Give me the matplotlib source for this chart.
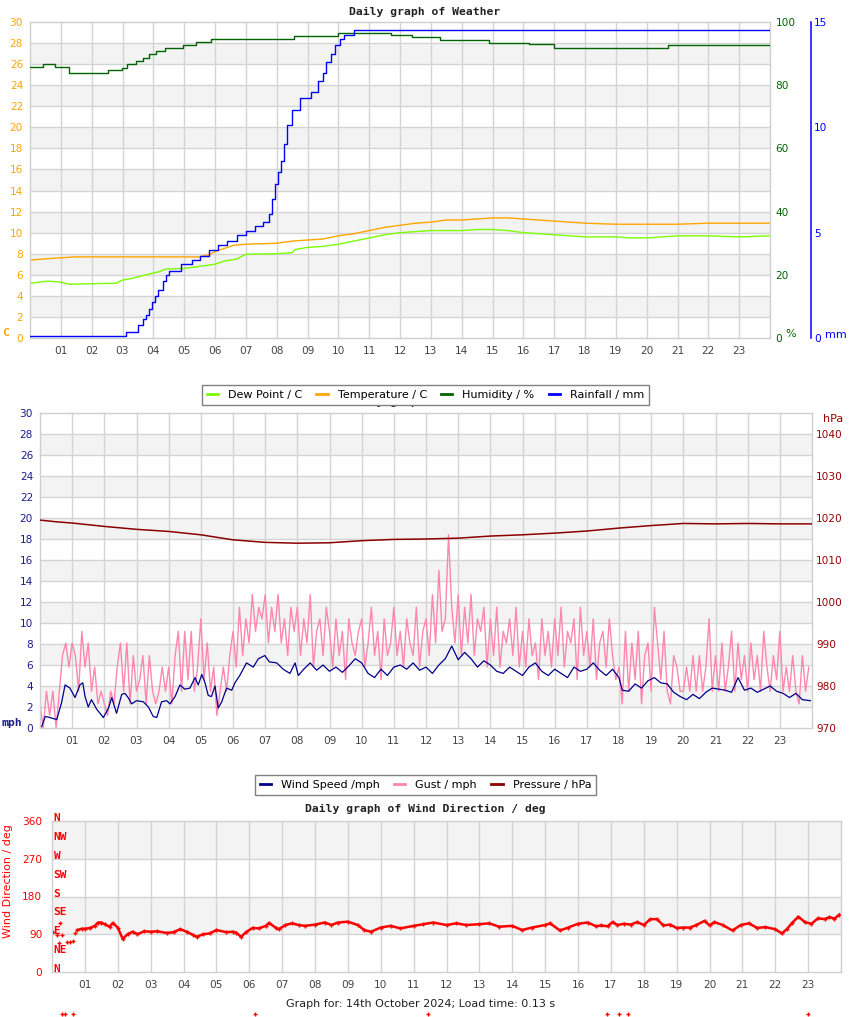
import numpy as np
import matplotlib
matplotlib.use('Agg')
import matplotlib.pyplot as plt
import matplotlib.transforms as mtransforms
from matplotlib.lines import Line2D

# ---------------------------------------------------------------
# Values (x = hour of the day)
# ---------------------------------------------------------------

HOURS = list(range(1, 24))
HOUR_LABELS = [f'{h:02d}' for h in HOURS]

# top panel: temperature / dew point (C), humidity (%), rainfall (mm)
temp_t = [0, 0.65, 1.45, 3.0, 4.5, 5.5, 5.8, 6.0, 6.3, 6.6, 7.0, 8.0, 8.5, 9.0, 9.5,
          10.0, 10.5, 11.0, 11.5, 12.0, 12.5, 13.0, 13.5, 14.0, 14.5, 15.0, 15.5,
          16.0, 16.5, 17.0, 17.5, 18.0, 19.0, 20.0, 21.0, 22.0, 23.0, 24.0]
temp_v = [7.4, 7.55, 7.7, 7.7, 7.7, 7.7, 7.9, 8.2, 8.5, 8.8, 8.9, 9.0, 9.2, 9.3, 9.4,
          9.7, 9.9, 10.2, 10.5, 10.7, 10.9, 11.0, 11.2, 11.2, 11.3, 11.4, 11.4,
          11.3, 11.2, 11.1, 11.0, 10.9, 10.8, 10.8, 10.8, 10.9, 10.9, 10.9]

dew_t = [0, 0.6, 1.0, 1.3, 2.0, 2.8, 3.0, 3.2, 3.5, 3.9, 4.2, 4.4, 5.0, 5.5, 6.0, 6.3,
         6.7, 7.0, 8.0, 8.5, 8.6, 9.0, 9.5, 10.0, 10.5, 11.0, 11.5, 12.0, 12.5, 13.0,
         14.0, 14.5, 15.0, 15.5, 16.0, 16.5, 17.0, 17.5, 18.0, 19.0, 19.5, 20.0, 20.5,
         21.0, 22.0, 23.0, 24.0]
dew_v = [5.2, 5.4, 5.3, 5.1, 5.15, 5.2, 5.5, 5.6, 5.8, 6.1, 6.3, 6.55, 6.6, 6.8, 7.0, 7.3,
         7.5, 7.95, 8.0, 8.1, 8.4, 8.6, 8.7, 8.9, 9.2, 9.5, 9.8, 10.0, 10.1, 10.2,
         10.2, 10.3, 10.3, 10.2, 10.0, 9.9, 9.8, 9.7, 9.6, 9.6, 9.5, 9.5, 9.6,
         9.7, 9.7, 9.6, 9.7]

hum_t = [0, 0.42, 0.82, 1.27, 2.54, 2.98, 3.15, 3.44, 3.68, 3.87, 4.09, 4.37, 4.96,
         5.37, 5.87, 8.57, 10.0, 11.7, 12.4, 13.3, 14.9, 16.2, 17.0, 20.7, 24.0]
hum_v = [85.8, 86.7, 85.8, 83.9, 84.7, 85.6, 86.6, 87.5, 88.6, 89.9, 90.7, 91.7, 92.7,
         93.6, 94.5, 95.5, 96.6, 95.9, 95.3, 94.3, 93.4, 93.0, 91.7, 92.6, 92.6]

rain_t = [0, 3.1, 3.5, 3.65, 3.75, 3.85, 3.95, 4.05, 4.15, 4.3, 4.4, 4.5, 4.9, 5.25,
          5.5, 5.8, 6.1, 6.4, 6.7, 7.0, 7.3, 7.55, 7.75, 7.85, 7.95, 8.05, 8.15, 8.25,
          8.35, 8.5, 8.75, 9.1, 9.35, 9.5, 9.6, 9.75, 9.9, 10.05, 10.2, 10.5, 24.0]
rain_v = [0.1, 0.3, 0.6, 0.9, 1.1, 1.4, 1.7, 2.0, 2.3, 2.7, 3.0, 3.2, 3.5, 3.7,
          3.9, 4.2, 4.4, 4.6, 4.9, 5.1, 5.3, 5.5, 5.9, 6.6, 7.3, 7.9, 8.4, 9.2,
          10.1, 10.8, 11.4, 11.7, 12.2, 12.6, 13.1, 13.5, 13.9, 14.2, 14.4, 14.6, 14.6]

# middle panel: wind speed and gust (mph), pressure (hPa)
wind_t = [0, 0.05, 0.16, 0.3, 0.52, 0.67, 0.78, 0.93, 1.09, 1.24, 1.33, 1.4, 1.5, 1.6,
          1.76, 1.97, 2.13, 2.23, 2.38, 2.54, 2.64, 2.74, 2.85, 3.0, 3.21, 3.37, 3.52,
          3.63, 3.78, 3.94, 4.04, 4.2, 4.35, 4.5, 4.66, 4.82, 4.92, 5.03, 5.13, 5.23,
          5.33, 5.44, 5.54, 5.65, 5.8, 5.96, 6.06, 6.21, 6.42, 6.63, 6.79, 6.99, 7.13,
          7.36, 7.56, 7.77, 7.93, 8.03, 8.2, 8.4, 8.6, 8.8, 9.0, 9.2, 9.4, 9.6, 9.8,
          10.0, 10.2, 10.4, 10.6, 10.8, 11.0, 11.2, 11.4, 11.6, 11.8, 12.0, 12.2, 12.4,
          12.6, 12.8, 13.0, 13.2, 13.4, 13.6, 13.8, 14.0, 14.2, 14.4, 14.6, 14.8, 15.0,
          15.2, 15.4, 15.6, 15.8, 16.0, 16.2, 16.4, 16.6, 16.8, 17.0, 17.2, 17.4, 17.6,
          17.8, 18.0, 18.1, 18.3, 18.5, 18.7, 18.9, 19.1, 19.3, 19.5, 19.7, 19.9, 20.1,
          20.3, 20.5, 20.7, 20.9, 21.1, 21.3, 21.5, 21.7, 21.9, 22.1, 22.3, 22.5, 22.7,
          22.9, 23.1, 23.3, 23.5, 23.7, 23.95]
wind_v = [0.3, 0.1, 1.1, 1.0, 0.8, 2.4, 4.1, 3.8, 2.9, 4.1, 4.3, 3.0, 2.0, 2.7,
          1.8, 1.0, 1.9, 2.9, 1.4, 3.2, 3.3, 2.9, 2.3, 2.6, 2.5, 2.0, 1.1,
          1.0, 2.5, 2.6, 2.3, 3.0, 4.1, 3.7, 3.8, 4.8, 4.1, 5.1, 4.3, 3.1,
          3.0, 4.0, 1.9, 2.5, 3.8, 3.6, 4.3, 5.0, 6.2, 5.8, 6.6, 6.9, 6.3,
          6.2, 5.6, 5.2, 6.2, 5.0, 5.6, 6.2, 5.5, 6.0, 5.4, 5.8, 5.3, 5.9, 6.6,
          6.2, 5.2, 4.8, 5.6, 5.0, 5.8, 6.0, 5.6, 6.2, 5.5, 5.8, 5.2, 6.0,
          6.6, 7.8, 6.5, 7.2, 6.6, 5.8, 6.4, 6.0, 5.4, 5.2, 5.8, 5.4, 5.0,
          5.8, 6.2, 5.4, 5.0, 5.6, 5.2, 4.8, 5.8, 5.4, 5.6, 6.2, 5.5, 5.0,
          5.6, 4.8, 3.6, 3.5, 4.2, 3.8, 4.5, 4.8, 4.3, 4.2, 3.4, 3.0, 2.7,
          3.2, 2.8, 3.4, 3.8, 3.7, 3.6, 3.4, 4.8, 3.6, 3.8, 3.4, 3.7, 4.0,
          3.5, 3.3, 2.9, 3.3, 2.7, 2.6]

# gust, ten readings per hour (0.0, 0.1, ... 23.9 h)
gust_by_hour = [
    [2.3, 0.0, 3.5, 1.2, 3.5, 0.0, 3.5, 6.9, 8.1, 5.8],
    [8.1, 6.9, 3.5, 9.2, 5.8, 8.1, 3.5, 5.8, 2.3, 3.5],
    [2.3, 1.2, 3.5, 2.3, 5.8, 8.1, 3.5, 8.1, 2.3, 6.9],
    [3.5, 4.6, 6.9, 2.3, 6.9, 3.5, 2.3, 3.5, 5.8, 3.5],
    [5.8, 2.3, 6.9, 9.2, 3.5, 9.2, 4.6, 9.2, 3.5, 5.8],
    [10.4, 4.6, 8.1, 3.5, 5.8, 1.2, 3.5, 5.8, 3.5, 6.9],
    [9.2, 5.8, 11.5, 6.9, 10.4, 8.1, 12.7, 9.2, 11.5, 10.4],
    [12.7, 8.1, 11.5, 9.2, 12.7, 8.1, 10.4, 6.9, 11.5, 9.2],
    [11.5, 6.9, 10.4, 8.1, 12.7, 5.8, 9.2, 10.4, 6.9, 11.5],
    [9.2, 5.8, 10.4, 6.9, 9.2, 4.6, 10.4, 8.1, 6.9, 9.2],
    [10.4, 5.8, 8.1, 11.5, 6.9, 9.2, 4.6, 10.4, 6.9, 8.1],
    [11.5, 6.9, 9.2, 5.8, 10.4, 8.1, 6.9, 11.5, 5.8, 9.2],
    [10.4, 6.9, 12.7, 8.1, 15.0, 9.2, 10.4, 18.4, 11.5, 8.1],
    [12.7, 6.9, 11.5, 8.1, 12.7, 6.9, 10.4, 9.2, 11.5, 5.8],
    [10.4, 6.9, 11.5, 5.8, 9.2, 8.1, 10.4, 6.9, 11.5, 5.8],
    [9.2, 5.8, 10.4, 6.9, 8.1, 4.6, 10.4, 6.9, 9.2, 5.8],
    [10.4, 6.9, 11.5, 5.8, 9.2, 8.1, 10.4, 4.6, 11.5, 6.9],
    [9.2, 5.8, 10.4, 4.6, 8.1, 9.2, 5.8, 10.4, 6.9, 4.6],
    [5.8, 2.3, 9.2, 3.5, 8.1, 4.6, 9.2, 2.3, 6.9, 8.1],
    [3.5, 11.5, 8.1, 4.6, 9.2, 3.5, 2.3, 6.9, 5.8, 3.5],
    [3.5, 5.8, 3.5, 6.9, 3.5, 6.9, 3.5, 5.8, 10.4, 3.5],
    [6.9, 3.5, 8.1, 3.5, 5.8, 9.2, 3.5, 8.1, 4.6, 6.9],
    [3.5, 8.1, 4.6, 6.9, 3.5, 9.2, 5.8, 3.5, 6.9, 4.6],
    [9.2, 3.5, 5.8, 3.5, 6.9, 3.5, 2.3, 6.9, 3.5, 5.8],
]

pres_t = [0, 0.5, 1.0, 2.0, 3.0, 4.0, 5.0, 6.0, 7.0, 8.0, 9.0, 10.0, 11.0, 12.0, 13.0,
          14.0, 15.0, 16.0, 17.0, 18.0, 19.0, 20.0, 21.0, 22.0, 23.0, 24.0]
pres_v = [1019.5, 1019.1, 1018.8, 1018.0, 1017.3, 1016.8, 1016.0, 1014.8, 1014.2, 1014.0,
          1014.1, 1014.6, 1014.9, 1015.0, 1015.2, 1015.7, 1016.0, 1016.4, 1016.9, 1017.6,
          1018.2, 1018.7, 1018.6, 1018.7, 1018.6, 1018.6]

# bottom panel: wind direction (deg)
dir_early_t = [0.04, 0.14, 0.2, 0.23, 0.3, 0.45, 0.55, 0.63, 0.7]
dir_early_v = [96, 88, 69, 117, 88, 72, 71, 73, 93]

dir_t = [0.77, 0.9, 1.0, 1.16, 1.3, 1.4, 1.5, 1.6, 1.75, 1.85, 2.0, 2.15, 2.3, 2.45,
         2.6, 2.8, 3.0, 3.2, 3.5, 3.7, 3.9, 4.1, 4.3, 4.4, 4.6, 4.8, 5.0, 5.3, 5.5,
         5.6, 5.75, 5.9, 6.1, 6.3, 6.5, 6.6, 6.8, 6.9, 7.1, 7.3, 7.5, 7.7, 8.0, 8.3,
         8.5, 8.7, 9.0, 9.3, 9.5, 9.7, 10.0, 10.3, 10.6, 11.0, 11.3, 11.6, 12.0,
         12.3, 12.6, 13.0, 13.3, 13.6, 14.0, 14.3, 14.6, 15.0, 15.15, 15.45, 15.7,
         16.0, 16.3, 16.55, 16.7, 16.9, 17.05, 17.2, 17.4, 17.6, 17.8, 18.0, 18.2,
         18.4, 18.6, 18.8, 19.0, 19.2, 19.4, 19.6, 19.85, 20.0, 20.15, 20.4, 20.7,
         20.95, 21.2, 21.45, 21.7, 22.0, 22.2, 22.35, 22.5, 22.7, 22.9, 23.1, 23.3,
         23.5, 23.65, 23.8, 23.95]
dir_v = [100, 103, 103, 105, 110, 118, 118, 114, 108, 117, 106, 79, 90, 96,
         90, 97, 96, 97, 93, 95, 102, 96, 88, 84, 90, 92, 100, 95, 96,
         94, 84, 95, 105, 104, 110, 117, 106, 102, 112, 116, 112, 110, 113, 118,
         112, 118, 120, 112, 100, 96, 106, 110, 104, 110, 114, 118, 112,
         116, 112, 114, 116, 108, 110, 100, 106, 112, 116, 99, 106,
         115, 118, 109, 111, 109, 119, 112, 115, 113, 119, 112, 126,
         126, 111, 113, 105, 106, 106, 112, 122, 111, 119, 112, 99,
         112, 116, 105, 107, 102, 92, 102, 116, 132, 119, 115, 128,
         126, 131, 127, 137]

# odd readings that landed below the plot
dir_stray_t = [0.29, 0.39, 0.65, 6.17, 11.44, 16.89, 17.26, 17.53, 23.0]
dir_stray_v = [-100, -100, -100, -100, -100, -100, -100, -100, -100]

compass_deg = [0, 45, 90, 135, 180, 225, 270, 315, 360]
compass_lbl = ['N', 'NE', 'E', 'SE', 'S', 'SW', 'W', 'NW', 'N']

# ---------------------------------------------------------------
# Styling
# ---------------------------------------------------------------
W, H = 850, 1017
BAND = '#f3f3f3'
GRID = '#d4d4d4'
XLAB = '#444444'
C_TEMP, C_DEW, C_HUM, C_RAIN = '#ffa500', '#7cfc00', '#006400', '#0000ff'
C_WIND, C_GUST, C_PRES = '#00008b', '#ff86ae', '#8b0000'
C_DIR = '#ff0000'
MONO = 'DejaVu Sans Mono'
TICK_FS = 7.6

plt.rcParams['font.family'] = ['DejaVu Sans']


def px_rect(x0, y0, x1, y1):
    '''Pixel box of the picture -> [left, bottom, width, height] in figure units'''
    return [x0 / W, 1 - y1 / H, (x1 - x0) / W, (y1 - y0) / H]


def fig_xy(x, y):
    return x / W, 1 - y / H


def grid_axes(ax, ymax, step, ylabel_color):
    '''Grey bands, grid lines, hour ticks'''
    edges = np.arange(0, ymax + step, step)
    for k in range(1, len(edges) - 1, 2):
        ax.axhspan(edges[k], edges[k + 1], color=BAND, lw=0, zorder=0)
    for y in edges[1:-1]:
        ax.axhline(y, color=GRID, lw=1, zorder=0.5)
    for h in HOURS:
        ax.axvline(h, color=GRID, lw=1, zorder=0.5)
    ax.set_xlim(0, 24)
    ax.set_ylim(0, ymax)
    ax.set_xticks(HOURS, HOUR_LABELS)
    ax.set_yticks(edges)
    ax.tick_params(axis='x', length=0, pad=6, labelsize=TICK_FS, labelcolor=XLAB)
    ax.tick_params(axis='y', length=0, pad=5, labelsize=TICK_FS, labelcolor=ylabel_color)
    for s in ax.spines.values():
        s.set_color('#cfcfcf')
        s.set_linewidth(1)


def clean_twin(ax):
    for s in ax.spines.values():
        s.set_visible(False)


fig = plt.figure(figsize=(W / 100, H / 100), dpi=100)

# ------------------------------ top panel ------------------------------
ax1 = fig.add_axes(px_rect(30, 22, 770, 338))
grid_axes(ax1, 30, 2, C_TEMP)
ax1.plot(dew_t, dew_v, color=C_DEW, lw=1.0)
ax1.plot(temp_t, temp_v, color=C_TEMP, lw=1.0)

ax1h = ax1.twinx()
clean_twin(ax1h)
ax1h.plot(hum_t, hum_v, color=C_HUM, lw=1.0, drawstyle='steps-post')
ax1h.set_ylim(0, 100)
ax1h.set_yticks([0, 20, 40, 60, 80, 100])
ax1h.tick_params(length=0, pad=4, labelsize=TICK_FS, labelcolor=C_HUM)

ax1r = ax1.twinx()
clean_twin(ax1r)
ax1r.spines['right'].set_visible(True)
ax1r.spines['right'].set_position(('axes', (811 - 30) / 740))
ax1r.spines['right'].set_color(C_RAIN)
ax1r.spines['right'].set_linewidth(1.1)
ax1r.plot(rain_t, rain_v, color=C_RAIN, lw=1.0, drawstyle='steps-post')
ax1r.set_ylim(0, 15)
ax1r.set_yticks([0, 5, 10, 15])
ax1r.tick_params(length=0, pad=2, labelsize=TICK_FS, labelcolor=C_RAIN)
ax1.set_xlim(0, 24)

fig.text(*fig_xy(425, 12), 'Daily graph of Weather', ha='center', va='center',
         family=MONO, weight='bold', fontsize=8.2, color='#222222')
fig.text(*fig_xy(2, 333), 'C', ha='left', va='center', family=MONO, weight='bold',
         fontsize=8.2, color=C_TEMP)
fig.text(*fig_xy(785, 334), '%', ha='left', va='center', fontsize=8, color=C_HUM)
fig.text(*fig_xy(825, 335), 'mm', ha='left', va='center', fontsize=8, color=C_RAIN)

h1 = [Line2D([], [], color=c, lw=2) for c in (C_DEW, C_TEMP, C_HUM, C_RAIN)]
fig.legend(h1, ['Dew Point / C', 'Temperature / C', 'Humidity / %', 'Rainfall / mm'],
           loc='center', bbox_to_anchor=fig_xy(425.5, 395), ncol=4, fontsize=8,
           frameon=True, fancybox=False, edgecolor='#808080', framealpha=1,
           handlelength=1.0, handletextpad=0.9, columnspacing=1.3,
           borderpad=0.45, borderaxespad=0)

# ----------------------------- middle panel ----------------------------
# its title sits mostly behind the legend above, as in the original page
fig.text(*fig_xy(425, 402), 'Daily graph of Weather', ha='center', va='center',
         family=MONO, weight='bold', fontsize=8.2, color='#222222')

ax2 = fig.add_axes(px_rect(40, 413, 812, 728))
grid_axes(ax2, 30, 2, '#1c1c8c')
gust_v = [g for row in gust_by_hour for g in row]
gust_t = np.arange(len(gust_v)) / 10.0
ax2.plot(gust_t, gust_v, color=C_GUST, lw=1.0)
ax2.plot(wind_t, wind_v, color=C_WIND, lw=0.9)

ax2p = ax2.twinx()
clean_twin(ax2p)
ax2p.plot(pres_t, pres_v, color=C_PRES, lw=1.1)
ax2p.set_ylim(970, 1045)
ax2p.set_yticks([970, 980, 990, 1000, 1010, 1020, 1030, 1040])
ax2p.tick_params(length=0, pad=3, labelsize=TICK_FS, labelcolor='#990000')
ax2.set_xlim(0, 24)

fig.text(*fig_xy(1, 723), 'mph', ha='left', va='center', family=MONO, weight='bold',
         fontsize=8.2, color='#1c1c8c')
fig.text(*fig_xy(823, 419), 'hPa', ha='left', va='center', fontsize=8, color='#990000')

h2 = [Line2D([], [], color=c, lw=2) for c in (C_WIND, C_GUST, C_PRES)]
fig.legend(h2, ['Wind Speed /mph', 'Gust / mph', 'Pressure / hPa'],
           loc='center', bbox_to_anchor=fig_xy(425.5, 785), ncol=3, fontsize=8,
           frameon=True, fancybox=False, edgecolor='#808080', framealpha=1,
           handlelength=1.0, handletextpad=0.9, columnspacing=1.3,
           borderpad=0.45, borderaxespad=0)

# ----------------------------- bottom panel ----------------------------
fig.text(*fig_xy(425, 809), 'Daily graph of Wind Direction / deg', ha='center',
         va='center', family=MONO, weight='bold', fontsize=8.2, color='#222222')

ax3 = fig.add_axes(px_rect(52, 821, 841, 972))
grid_axes(ax3, 360, 90, C_DIR)
ax3.plot(dir_t, dir_v, color=C_DIR, lw=1.8, marker='+', ms=3, mew=1)
ax3.plot(dir_early_t, dir_early_v, color=C_DIR, ls='none', marker='+', ms=3, mew=1)
ax3.plot(dir_stray_t, dir_stray_v, color=C_DIR, ls='none', marker='+', ms=3, mew=1,
         clip_on=False)
ax3.tick_params(axis='y', pad=7)

blend = mtransforms.blended_transform_factory(ax3.transAxes, ax3.transData)
for deg, lbl in zip(compass_deg, compass_lbl):
    ax3.text(0.002, deg + 7, lbl, transform=blend, ha='left', va='center',
             family=MONO, weight='bold', fontsize=8, color=C_DIR, clip_on=False)

fig.text(*fig_xy(8, 881), 'Wind Direction / deg', rotation=90, ha='center',
         va='center', fontsize=8, color=C_DIR)
fig.text(*fig_xy(421, 1004), 'Graph for: 14th October 2024; Load time: 0.13 s',
         ha='center', va='center', fontsize=8, color='#222222')

fig.savefig('out.png', dpi=100)
